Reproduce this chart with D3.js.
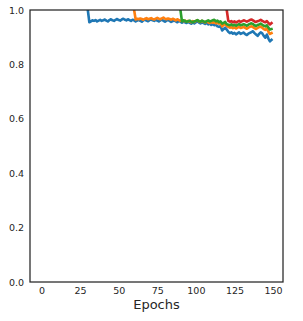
<!DOCTYPE html>
<html><head><meta charset="utf-8">
<script src="https://cdn.jsdelivr.net/npm/d3@7"></script>
<style>body{margin:0;background:#fff}svg{display:block}</style>
</head><body>
<script>
const xTicks = [0,25,50,75,100,125,150];
const yTicks = [0.0,0.2,0.4,0.6,0.8,1.0];
const xLabel = "Epochs";

const blueStart = 30;
const blueValues = [1.0,
0.955,0.958,0.962,0.960,0.963,0.958,0.961,0.964,0.960,0.962,
0.965,0.961,0.958,0.963,0.966,0.962,0.960,0.964,0.967,0.963,
0.961,0.965,0.968,0.964,0.962,0.966,0.963,0.960,0.964,0.962,
0.958,0.961,0.964,0.960,0.957,0.962,0.965,0.961,0.959,0.963,
0.966,0.962,0.960,0.964,0.961,0.958,0.962,0.965,0.960,0.957,
0.961,0.964,0.960,0.956,0.959,0.963,0.958,0.955,0.960,0.957,
0.953,0.957,0.955,0.952,0.956,0.953,0.950,0.954,0.951,0.955,
0.958,0.954,0.951,0.955,0.952,0.949,0.953,0.947,0.950,0.945,
0.948,0.944,0.946,0.940,0.938,0.941,0.925,0.930,0.935,0.928,
0.920,0.915,0.918,0.913,0.916,0.910,0.914,0.918,0.912,0.915,
0.917,0.911,0.908,0.913,0.916,0.919,0.922,0.915,0.910,0.905,
0.912,0.918,0.914,0.905,0.898,0.910,0.895,0.885,0.890];

const orangeStart = 60;
const orangeValues = [1.0,
0.965,0.968,0.966,0.969,0.967,0.964,0.968,0.970,0.966,0.968,
0.970,0.967,0.965,0.968,0.971,0.968,0.966,0.969,0.972,0.968,
0.966,0.969,0.967,0.964,0.968,0.965,0.962,0.966,0.963,0.960,
0.962,0.959,0.961,0.957,0.960,0.958,0.955,0.959,0.956,0.960,
0.962,0.958,0.956,0.960,0.957,0.954,0.958,0.955,0.952,0.956,
0.953,0.956,0.951,0.954,0.950,0.952,0.940,0.945,0.948,0.942,
0.938,0.935,0.937,0.933,0.936,0.932,0.935,0.938,0.934,0.936,
0.938,0.934,0.931,0.935,0.938,0.940,0.937,0.933,0.930,0.934,
0.937,0.939,0.935,0.930,0.927,0.932,0.920,0.912,0.915];

const greenStart = 90;
const greenValues = [1.0,
0.958,0.962,0.960,0.956,0.959,0.961,0.957,0.955,0.958,0.960,
0.963,0.959,0.957,0.961,0.958,0.955,0.959,0.962,0.958,0.960,
0.962,0.964,0.958,0.961,0.955,0.958,0.950,0.953,0.956,0.948,
0.946,0.944,0.947,0.943,0.946,0.942,0.945,0.948,0.944,0.946,
0.948,0.945,0.942,0.946,0.949,0.951,0.948,0.944,0.941,0.945,
0.947,0.950,0.946,0.942,0.940,0.944,0.935,0.928,0.930];

const redStart = 120;
const redValues = [1.0,
0.960,0.957,0.959,0.955,0.958,0.954,0.957,0.960,0.956,0.959,
0.962,0.960,0.957,0.960,0.963,0.965,0.962,0.958,0.956,0.959,
0.961,0.964,0.960,0.957,0.955,0.959,0.952,0.947,0.952];

const series = [
  {start: blueStart, values: blueValues, color: "#1f77b4"},
  {start: orangeStart, values: orangeValues, color: "#ff7f0e"},
  {start: greenStart, values: greenValues, color: "#2ca02c"},
  {start: redStart, values: redValues, color: "#d62728"}
];

const W = 303, H = 321;
const m = {left: 30, right: 20, top: 10, bottom: 39};
const svg = d3.select("body").append("svg").attr("width", W).attr("height", H);

const x = d3.scaleLinear().domain([-7.45, 156.45]).range([m.left, W - m.right]);
const y = d3.scaleLinear().domain([0, 1]).range([H - m.bottom, m.top]);

svg.append("defs").append("clipPath").attr("id", "clip")
  .append("rect").attr("x", m.left).attr("y", m.top)
  .attr("width", W - m.left - m.right).attr("height", H - m.top - m.bottom);

const line = d3.line().x(d => x(d[0])).y(d => y(d[1]));
const g = svg.append("g").attr("clip-path", "url(#clip)");
series.forEach(s => {
  const pts = s.values.map((v, i) => [s.start + i, v]);
  g.append("path").datum(pts).attr("d", line)
    .attr("fill", "none").attr("stroke", s.color)
    .attr("stroke-width", 2.6).attr("stroke-linejoin", "round").attr("stroke-linecap", "square");
});

const font = "DejaVu Sans, sans-serif";
const xAxis = svg.append("g").attr("transform", `translate(0,${H - m.bottom})`)
  .call(d3.axisBottom(x).tickValues(xTicks).tickSize(0).tickPadding(5).tickFormat(d3.format("d")));
xAxis.select(".domain").remove();
xAxis.selectAll("text").attr("font-family", font).attr("font-size", 9.5).attr("fill", "#262626");

const yAxis = svg.append("g").attr("transform", `translate(${m.left},0)`)
  .call(d3.axisLeft(y).tickValues(yTicks).tickSize(0).tickPadding(6).tickFormat(d3.format(".1f")));
yAxis.select(".domain").remove();
yAxis.selectAll("text").attr("font-family", font).attr("font-size", 9.5).attr("fill", "#262626");

svg.append("rect").attr("x", m.left).attr("y", m.top)
  .attr("width", W - m.left - m.right).attr("height", H - m.top - m.bottom)
  .attr("fill", "none").attr("stroke", "#262626").attr("stroke-width", 1.25);

svg.append("text").attr("x", (m.left + W - m.right) / 2).attr("y", 309)
  .attr("text-anchor", "middle").attr("font-family", font).attr("font-size", 13)
  .attr("fill", "#262626").text(xLabel);
</script>
</body></html>
